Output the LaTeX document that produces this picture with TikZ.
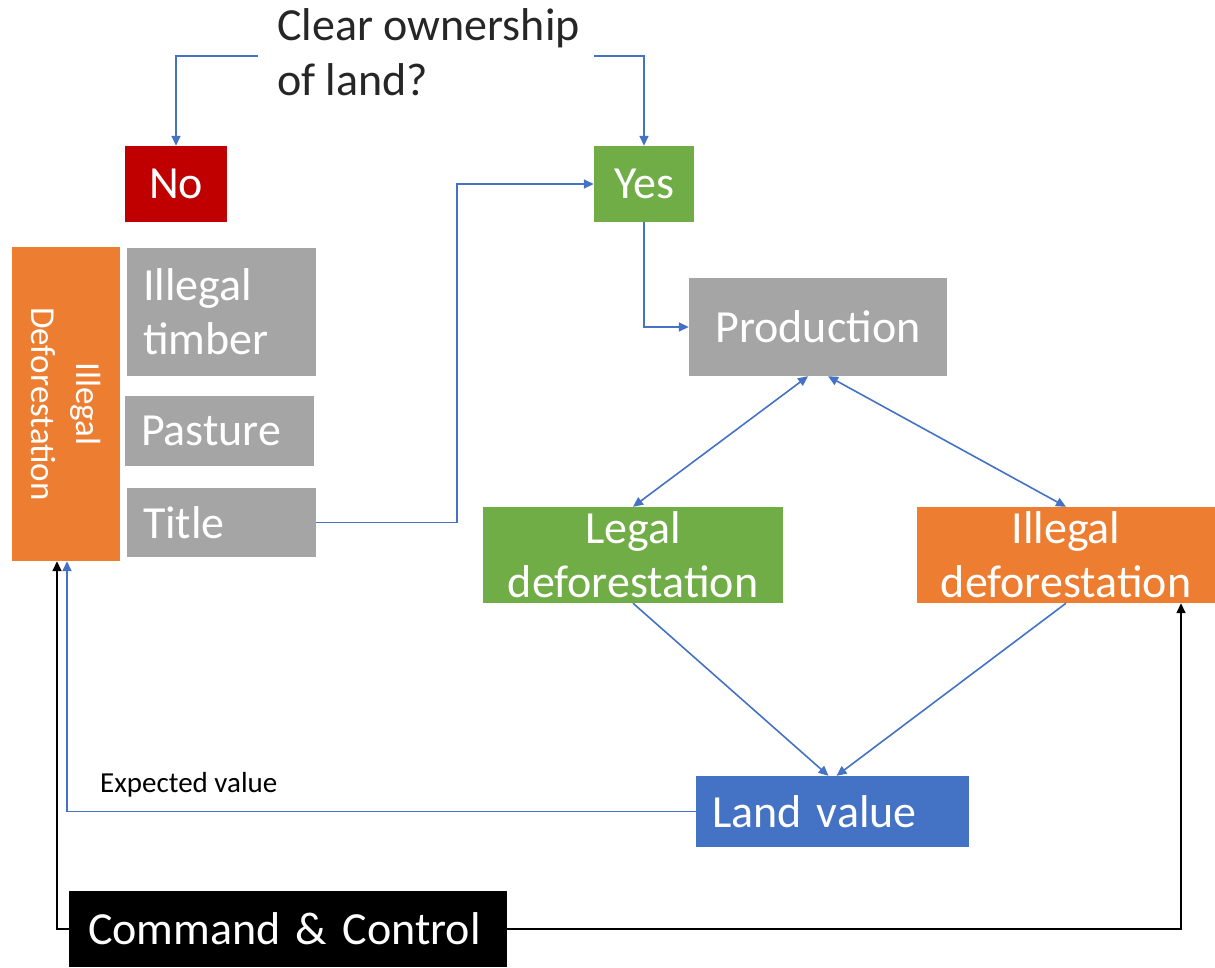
\documentclass[tikz,border=0pt]{standalone}
\usepackage{fontspec}
\setmainfont{Carlito}
\usetikzlibrary{arrows.meta}
\definecolor{cred}{HTML}{C00000}
\definecolor{cgreen}{HTML}{70AD47}
\definecolor{corange}{HTML}{ED7D31}
\definecolor{cgray}{HTML}{A5A5A5}
\definecolor{cblue}{HTML}{4472C4}
\definecolor{qtext}{HTML}{262626}
\begin{document}
\begin{tikzpicture}[x=1pt,y=-1pt,
  box/.style={draw=none, inner sep=0pt, text=white, align=center,
    font=\fontsize{46}{54}\selectfont},
  lbox/.style={box, align=left, inner xsep=16pt},
  conn/.style={cblue, line width=1.6pt, -{Triangle[length=10pt,width=9pt]}},
  dconn/.style={cblue, line width=1.6pt, {Triangle[length=10pt,width=9pt]}-{Triangle[length=10pt,width=9pt]}},
  kconn/.style={black, line width=1.6pt, -{Triangle[length=10pt,width=9pt]}}]
\path[use as bounding box, fill=white] (0,0) rectangle (1215,967);

% question
\node[anchor=base west, inner sep=0pt, align=left, text=qtext,
  font=\fontsize{46}{55}\selectfont] (q) at (277,95) {Clear ownership\\of land?};
\coordinate (qL) at (258,56);
\coordinate (qR) at (594,56);

% boxes
\node[box, fill=cred, minimum width=102pt, minimum height=76pt] (no) at (176,184) {No};
\node[box, fill=cgreen, minimum width=100pt, minimum height=76pt] (yes) at (644,184) {Yes};
\node[box, fill=corange, rotate=-90, minimum width=314pt, minimum height=108pt,
  font=\fontsize{35}{45}\selectfont] (ill) at (66,404) {Illegal\\Deforestation};
\node[lbox, fill=cgray, text width=157pt, minimum height=128pt] (timber) at (221.5,312) {Illegal\\timber};
\node[lbox, fill=cgray, text width=157pt, minimum height=70pt] (pasture) at (219.5,431) {Pasture};
\node[lbox, fill=cgray, text width=157pt, minimum height=69pt] (title) at (221.5,522.5) {Title};
\node[box, fill=cgray, minimum width=258pt, minimum height=98pt] (prod) at (818,327) {Production};
\node[box, fill=cgreen, minimum width=300pt, minimum height=96pt] (legal) at (633,555) {Legal\\deforestation};
\node[box, fill=corange, minimum width=298pt, minimum height=96pt] (illegal) at (1066,555) {Illegal\\deforestation};
\node[lbox, fill=cblue, text width=241pt, minimum height=71pt] (land) at (832.5,811.5) {\mbox{Land value}};
\node[box, fill=black, align=left, inner xsep=19pt, text width=400pt, minimum height=76pt] (cc) at (288,929) {\mbox{Command \& Control}};

\node[anchor=base west, inner sep=0pt, font=\fontsize{29}{35}\selectfont] (ev) at (100,792) {Expected value};

% connectors
\draw[conn] (qL) -| (no.north);
\draw[conn] (qR) -| (yes.north);
\draw[conn] (title.east) -- ++(141,0) |- (yes.west);
\draw[conn] (yes.south) |- (prod.west);
\draw[dconn] ([xshift=-10pt]prod.south) -- (legal.north);
\draw[dconn] ([xshift=10pt]prod.south) -- (illegal.north);
\draw[conn] (legal.south) -- ([xshift=-4pt]land.north);
\draw[conn] (illegal.south) -- ([xshift=4pt]land.north);
\draw[conn] (land.west) -| ([xshift=1pt]ill.east);
\draw[kconn] (cc.west) -| ([xshift=-9pt]ill.east);
\draw[kconn] (cc.east) -| ([xshift=115pt]illegal.south);
\end{tikzpicture}
\end{document}
